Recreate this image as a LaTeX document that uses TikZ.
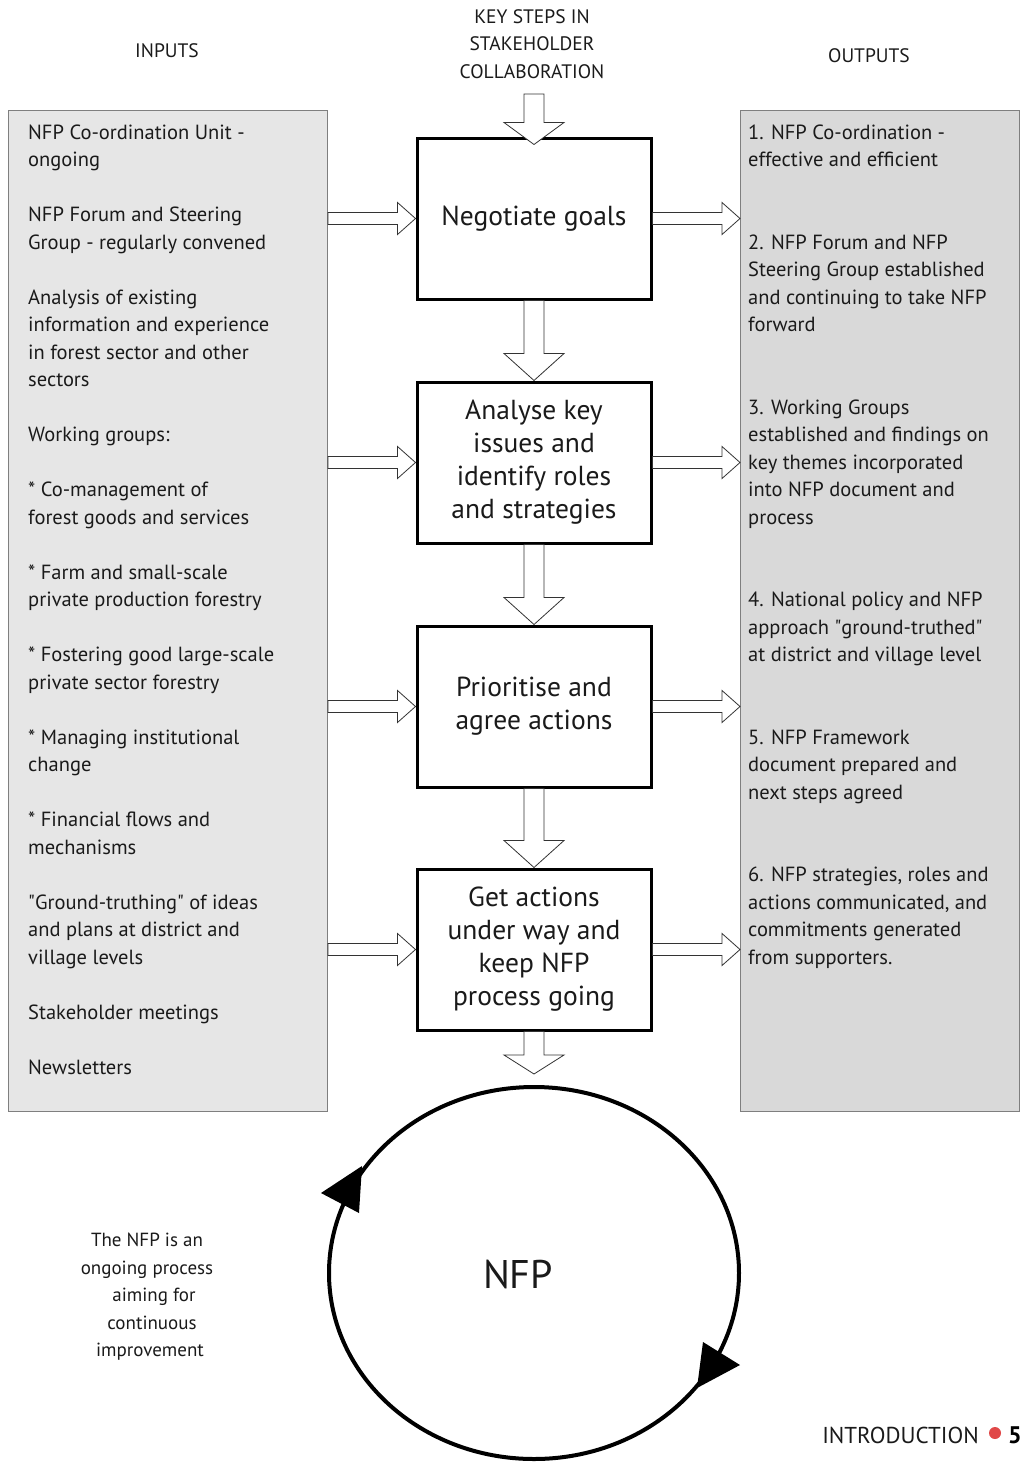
\documentclass[tikz,border=0pt]{standalone}
\usepackage{fontspec}
\setmainfont{PT Sans}
\usepackage{tikz}
\usetikzlibrary{calc,shapes.geometric}
\definecolor{Ink}{HTML}{1A1A1A}
\definecolor{InPanel}{HTML}{E6E6E6}
\definecolor{OutPanel}{HTML}{D9D9D9}
\definecolor{PanelLine}{HTML}{7F7F7F}
\definecolor{DotRed}{HTML}{E04848}

\tikzset{
  panel/.style={draw=PanelLine,line width=1pt,minimum height=1001pt,inner sep=0pt},
  stepbox/.style={draw=black,fill=white,line width=3pt,minimum width=234pt,minimum height=161pt,
    align=center,text=Ink,font=\fontsize{27.5}{33}\selectfont},
  listtext/.style={align=left,text=Ink,inner sep=0pt,font=\fontsize{20.5}{27.5}\selectfont},
  headtext/.style={align=center,text=Ink,inner sep=0pt,font=\fontsize{19.5}{27.5}\selectfont},
  blockarrow/.style={draw=black!80,fill=white,line width=0.8pt,line join=miter}
}
% hollow block arrows: from (#1) down to the tip (#2), head length #3
\newcommand{\blockdown}[3]{%
  \draw[blockarrow] let \p1=(#1), \p2=(#2) in
    (\x1-10pt,\y1) -- (\x1-10pt,\y2+#3) -- (\x1-30pt,\y2+#3) -- (\x1,\y2)
    -- (\x1+30pt,\y2+#3) -- (\x1+10pt,\y2+#3) -- (\x1+10pt,\y1) -- cycle;}
\newcommand{\blockright}[2]{%
  \draw[blockarrow] let \p1=(#1), \p2=(#2) in
    (\x1,\y2+6pt) -- (\x2-18pt,\y2+6pt) -- (\x2-18pt,\y2+16pt) -- (\x2,\y2)
    -- (\x2-18pt,\y2-16pt) -- (\x2-18pt,\y2-6pt) -- (\x1,\y2-6pt) -- cycle;}
\newcommand{\dq}{\textquotedbl}

\begin{document}
\begin{tikzpicture}[x=1pt,y=-1pt]
  \useasboundingbox (0,0) rectangle (1021,1462);

  % headings
  \node[headtext] (inhead) at (167,51) {INPUTS};
  \node[headtext] (stephead) at (532,44) {KEY STEPS IN\\STAKEHOLDER\\COLLABORATION};
  \node[headtext] (outhead) at (869,56) {OUTPUTS};

  % side panels
  \node[panel,fill=InPanel,minimum width=319pt] (inputs) at (168,611) {};
  \node[panel,fill=OutPanel,minimum width=279pt] (outputs) at (880,611) {};

  % lists sit on the baseline of their last line
  \node[listtext,anchor=base west] (inlist) at (28,1074) {%
    NFP Co-ordination Unit -\\ongoing\\[27.5pt]
    NFP Forum and Steering\\Group - regularly convened\\[27.5pt]
    Analysis of existing\\information and experience\\in forest sector and other\\sectors\\[27.5pt]
    Working groups:\\[27.5pt]
    * Co-management of\\forest goods and services\\[27.5pt]
    * Farm and small-scale\\private production forestry\\[27.5pt]
    * Fostering good large-scale\\private sector forestry\\[27.5pt]
    * Managing institutional\\change\\[27.5pt]
    * Financial flows and\\mechanisms\\[27.5pt]
    \dq Ground-truthing\dq{} of ideas\\and plans at district and\\village levels\\[27.5pt]
    Stakeholder meetings\\[27.5pt]
    Newsletters};

  \node[listtext,anchor=base west] (outlist) at (748,964) {%
    1. NFP Co-ordination -\\effective and efficient\\[55pt]
    2. NFP Forum and NFP\\Steering Group established\\and continuing to take NFP\\forward\\[55pt]
    3. Working Groups\\established and findings on\\key themes incorporated\\into NFP document and\\process\\[55pt]
    4. National policy and NFP\\approach \dq ground-truthed\dq\\at district and village level\\[55pt]
    5. NFP Framework\\document prepared and\\next steps agreed\\[55pt]
    6. NFP strategies, roles and\\actions communicated, and\\commitments generated\\from supporters.};

  % key steps
  \node[stepbox] (goals) at (534,218.5) {Negotiate goals};
  \node[stepbox] (analyse) at (534,462.5) {Analyse key\\issues and\\identify roles\\and strategies};
  \node[stepbox] (prioritise) at (534,706.5) {Prioritise and\\agree actions};
  \node[stepbox] (actions) at (534,949.5) {Get actions\\under way and\\keep NFP\\process going};

  \coordinate (keyin) at (534,94);
  \coordinate (loopin) at (534,1074);

  % block arrows
  \blockdown{keyin}{$(goals.north)+(0,8)$}{22pt}
  \blockdown{goals.south}{analyse.north}{27pt}
  \blockdown{analyse.south}{prioritise.north}{27pt}
  \blockdown{prioritise.south}{actions.north}{27pt}
  \blockdown{actions.south}{loopin}{19pt}
  \foreach \s in {goals,analyse,prioritise,actions}{
    \blockright{inputs.east}{\s.west}
    \blockright{\s.east}{outputs.west |- \s.east}
  }

  % the NFP loop
  \node[draw=black,ellipse,line width=4pt,minimum width=410pt,minimum height=372pt] (loop) at (534,1273) {};
  \node[text=Ink,font=\fontsize{40}{44}\selectfont] (nfp) at (518,1274) {NFP};
  \fill[black] (321,1193) -- (362,1166) -- (359,1213) -- cycle;
  \fill[black] (740,1365) -- (703,1342) -- (697,1388) -- cycle;

  \node[text=Ink,align=center,font=\fontsize{19}{27.5}\selectfont] (caption) at (147,1297)
    {The NFP is an\\ongoing process\\\hspace*{14pt}aiming for\\\hspace*{10pt}continuous\\\hspace*{6pt}improvement};

  % page footer
  \node[anchor=base east,text=Ink,inner sep=0pt,font=\fontsize{23}{28}\selectfont] (footer) at (979,1443) {INTRODUCTION};
  \fill[DotRed] (995,1433) circle (6);
  \node[anchor=base west,inner sep=0pt,font=\fontsize{24}{28}\selectfont\bfseries] (pageno) at (1008,1443) {5};
\end{tikzpicture}
\end{document}
